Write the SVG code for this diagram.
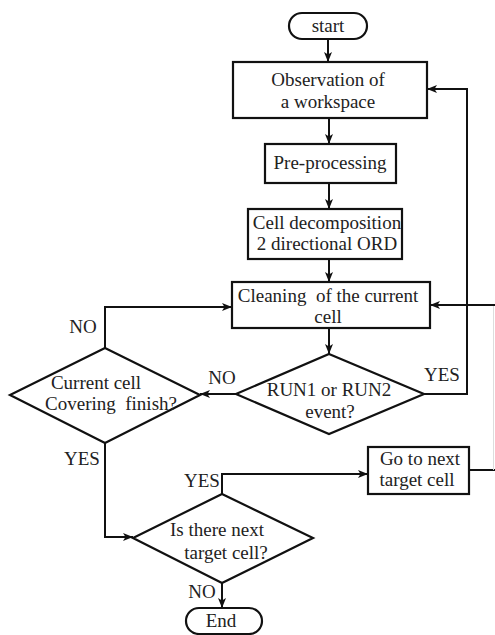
<svg xmlns="http://www.w3.org/2000/svg" width="495" height="635" viewBox="0 0 495 635">
  <defs>
    <marker id="arrow" markerUnits="userSpaceOnUse" markerWidth="10" markerHeight="8" viewBox="0 0 10 8" refX="10" refY="4" orient="auto">
      <path d="M0,0 L10,4 L0,8 L2.5,4 Z" fill="#111"/>
    </marker>
  </defs>
  <style>
    .shape { fill: #fff; stroke: #111; stroke-width: 2.2; }
    .line { fill: none; stroke: #111; stroke-width: 2; }
    .faint { fill: none; stroke: #ddd; stroke-width: 1; }
    text { font-family: "Liberation Serif", "Times New Roman", serif; font-size: 19px; fill: #222; text-anchor: middle; }
  </style>
  <rect width="495" height="635" fill="#fff"/>

  <!-- connectors -->
  <g id="connectors">
    <path class="line" d="M328,39 V62" marker-end="url(#arrow)"/>
    <path class="line" d="M329,118 V144" marker-end="url(#arrow)"/>
    <path class="line" d="M329,183 V209" marker-end="url(#arrow)"/>
    <path class="line" d="M329,259 V282" marker-end="url(#arrow)"/>
    <path class="line" d="M329,328 V354" marker-end="url(#arrow)"/>
    <path class="line" d="M424,394 H467 V89 H427" marker-end="url(#arrow)"/>
    <path class="line" d="M236,394 H200" marker-end="url(#arrow)"/>
    <path class="line" d="M105,348 V307 H232" marker-end="url(#arrow)"/>
    <path class="line" d="M105,443 V537 H133" marker-end="url(#arrow)"/>
    <path class="line" d="M222,494 V474 H368" marker-end="url(#arrow)"/>
    <path class="line" d="M469,470 H495"/>
    <path class="faint" d="M493.5,305 V470"/>
    <path class="line" d="M495,305 H430" marker-end="url(#arrow)"/>
    <path class="line" d="M222,583 V608" marker-end="url(#arrow)"/>
    <text x="83" y="333">NO</text>
    <text x="222" y="384">NO</text>
    <text x="442" y="381">YES</text>
    <text x="82" y="465">YES</text>
    <text x="202" y="487">YES</text>
    <text x="202" y="598">NO</text>
  </g>

  <g id="start">
    <rect class="shape" x="289" y="13" width="78" height="26" rx="13"/>
    <text x="328" y="32">start</text>
  </g>

  <g id="observation">
    <rect class="shape" x="233" y="62" width="194" height="56"/>
    <text x="328" y="86">Observation of</text>
    <text x="328" y="108">a workspace</text>
  </g>

  <g id="preprocessing">
    <rect class="shape" x="265" y="144" width="131" height="39"/>
    <text x="330" y="169">Pre-processing</text>
  </g>

  <g id="decomposition">
    <rect class="shape" x="248" y="209" width="154" height="50"/>
    <text x="327" y="229">Cell decomposition</text>
    <text x="327" y="250">2 directional ORD</text>
  </g>

  <g id="cleaning">
    <rect class="shape" x="232" y="282" width="198" height="46"/>
    <text x="328" y="302" xml:space="preserve">Cleaning  of the current</text>
    <text x="328" y="323">cell</text>
  </g>

  <g id="run-event">
    <polygon class="shape" points="329,354 424,394 329,434 236,394"/>
    <text x="329" y="396">RUN1 or RUN2</text>
    <text x="330" y="418">event?</text>
  </g>

  <g id="covering-finish">
    <polygon class="shape" points="105,348 200,395 105,443 10,395"/>
    <text x="96" y="389">Current cell</text>
    <text x="111" y="410" xml:space="preserve">Covering  finish?</text>
  </g>

  <g id="next-target">
    <polygon class="shape" points="222,494 313,538 222,583 133,538"/>
    <text x="217" y="536">Is there next</text>
    <text x="226" y="559">target cell?</text>
  </g>

  <g id="goto-next">
    <rect class="shape" x="368" y="447" width="101" height="47"/>
    <text x="420" y="465">Go to next</text>
    <text x="417" y="486">target cell</text>
  </g>

  <g id="end">
    <rect class="shape" x="186" y="608" width="76" height="26" rx="13"/>
    <text x="221" y="627">End</text>
  </g>
</svg>
